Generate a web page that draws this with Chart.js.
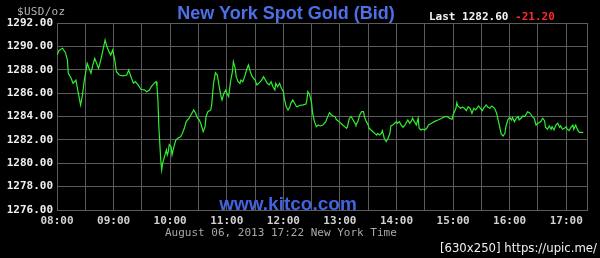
<!DOCTYPE html>
<html>
<head>
<meta charset="utf-8">
<title>New York Spot Gold (Bid)</title>
<script src="https://cdn.jsdelivr.net/npm/chart.js@4.4.1/dist/chart.umd.min.js"></script>
<style>
    html, body { margin: 0; padding: 0; background: #000; }
    #wrap { position: relative; width: 600px; height: 258px; overflow: hidden; background: #000; }
    #wrap canvas { position: absolute; left: 0; top: 0; }
    .txt { position: absolute; white-space: nowrap; line-height: 1; }
    #unit { left: 17px; top: 5px; font: 11px "DejaVu Sans Mono", monospace; color: #b4b4b4; letter-spacing: 0.3px; }
    #title { left: 286px; top: 3px; transform: translateX(-50%); font: bold 18px "Liberation Sans", Arial, sans-serif; color: #4d6fe8; }
    #last { left: 429px; top: 10px; font: bold 11px "DejaVu Sans Mono", monospace; color: #f4f4f4; }
    #last span { color: #ff2a2a; }
    #site { left: 288px; top: 193px; transform: translateX(-50%); font: bold 19px "Liberation Sans", Arial, sans-serif; color: #4262e0; }
    #stamp { left: 165px; top: 226px; font: 11px "DejaVu Sans Mono", monospace; color: #a8a8a8; }
    #wm { right: 3px; top: 240px; font: 13px "Liberation Sans Narrow", "DejaVu Sans Condensed", sans-serif; color: #f0f0f0; }
</style>
</head>
<body>
<div id="wrap">
    <canvas id="gold" width="600" height="258"></canvas>
    <div class="txt" id="unit">$USD/oz</div>
    <div class="txt" id="title">New York Spot Gold (Bid)</div>
    <div class="txt" id="last">Last 1282.60 <span>-21.20</span></div>
    <div class="txt" id="site">www.kitco.com</div>
    <div class="txt" id="stamp">August 06, 2013 17:22 New York Time</div>
    <div class="txt" id="wm">[630x250] https://upic.me/</div>
</div>
<script>
// minutes after 08:00 New York time, and bid price at that minute
const minutes = [
    0, 2, 4, 6, 7, 9, 11, 12, 15, 17, 20, 21, 23, 25, 27, 29, 32, 34, 36, 38,
    40, 42, 44, 46, 48, 51, 53, 55, 57, 59, 61, 63, 66, 70, 74, 76, 79, 81, 83, 86,
    89, 93, 95, 98, 100, 103, 105, 106, 107, 108, 109, 110, 111, 112, 114, 116, 117, 118, 119, 121,
    122, 124, 126, 128, 131, 133, 135, 137, 140, 142, 145, 147, 149, 151, 153, 155, 157, 158, 160, 163,
    164, 166, 168, 170, 172, 174, 175, 177, 179, 180, 182, 184, 186, 187, 189, 190, 192, 194, 195, 197,
    199, 201, 203, 205, 207, 210, 212, 214, 217, 219, 221, 223, 225, 227, 229, 231, 232, 234, 236, 238,
    240, 241, 243, 245, 247, 248, 250, 252, 254, 255, 257, 261, 264, 265, 266, 268, 270, 271, 273, 275,
    277, 279, 282, 285, 287, 289, 291, 293, 295, 296, 299, 301, 303, 305, 307, 308, 310, 312, 314, 316,
    317, 319, 321, 323, 325, 326, 328, 330, 331, 333, 335, 337, 339, 340, 342, 344, 345, 347, 349, 351,
    353, 354, 356, 358, 360, 361, 363, 365, 367, 369, 370, 372, 374, 376, 377, 379, 381, 383, 384, 386,
    388, 390, 392, 394, 397, 400, 404, 408, 411, 414, 416, 419, 420, 423, 424, 425, 428, 430, 432, 434,
    436, 438, 440, 442, 444, 447, 449, 451, 453, 455, 457, 459, 461, 464, 466, 467, 469, 471, 473, 475,
    476, 478, 480, 482, 483, 485, 487, 489, 490, 492, 494, 496, 497, 499, 501, 503, 504, 506, 508, 510,
    511, 513, 515, 517, 518, 520, 522, 524, 525, 527, 529, 531, 533, 534, 536, 538, 540, 541, 543, 545,
    547, 548, 550, 552, 554, 557, 558
];
const prices = [
    1289.26, 1289.63, 1289.75, 1289.84, 1289.69, 1289.46, 1288.84, 1287.70, 1287.27, 1286.84,
    1287.12, 1286.70, 1285.84, 1284.99, 1285.84, 1287.12, 1288.55, 1288.12, 1287.70, 1288.41,
    1288.98, 1288.55, 1288.12, 1288.69, 1289.41, 1290.55, 1289.97, 1289.55, 1289.26, 1289.69,
    1288.98, 1287.83, 1287.55, 1287.47, 1287.55, 1287.98, 1287.27, 1286.84, 1286.98, 1286.70,
    1286.33, 1286.27, 1286.12, 1286.27, 1286.55, 1286.84, 1286.98, 1286.55, 1285.41, 1283.13,
    1281.71, 1280.28, 1279.43, 1280.00, 1280.56, 1281.14, 1280.71, 1280.99, 1281.60, 1281.42,
    1280.71, 1281.42, 1281.99, 1282.14, 1282.27, 1282.56, 1282.99, 1283.56, 1283.85, 1284.13,
    1284.56, 1284.28, 1283.85, 1283.70, 1283.27, 1282.70, 1283.13, 1283.99, 1284.41, 1284.56,
    1284.99, 1286.84, 1287.75, 1287.55, 1286.55, 1285.70, 1285.41, 1285.99, 1286.27, 1285.99,
    1285.70, 1286.98, 1287.83, 1288.69, 1288.12, 1287.41, 1286.98, 1286.84, 1287.12, 1286.98,
    1287.41, 1287.98, 1288.41, 1287.83, 1287.41, 1287.12, 1286.70, 1286.84, 1287.12, 1287.41,
    1287.12, 1286.84, 1286.70, 1286.98, 1286.55, 1286.27, 1286.84, 1286.55, 1286.84, 1286.41,
    1286.12, 1285.56, 1284.84, 1284.56, 1284.84, 1285.13, 1285.41, 1285.13, 1284.84, 1284.84,
    1284.94, 1284.99, 1285.07, 1285.41, 1286.12, 1285.84, 1285.13, 1284.28, 1283.56, 1283.13,
    1283.27, 1283.19, 1283.27, 1283.56, 1283.99, 1284.33, 1284.13, 1284.04, 1283.99, 1283.76,
    1283.56, 1283.42, 1283.27, 1283.13, 1282.99, 1283.13, 1283.85, 1283.99, 1283.70, 1283.42,
    1283.27, 1283.56, 1284.13, 1284.41, 1284.41, 1283.99, 1283.56, 1283.27, 1282.99, 1282.85,
    1282.70, 1282.56, 1282.42, 1282.56, 1282.42, 1282.56, 1282.79, 1282.14, 1281.85, 1282.14,
    1282.56, 1283.19, 1283.27, 1283.42, 1283.56, 1283.42, 1283.56, 1283.27, 1283.08, 1283.27,
    1283.42, 1283.70, 1283.42, 1283.64, 1283.85, 1283.56, 1283.27, 1283.85, 1282.99, 1282.85,
    1282.91, 1282.85, 1282.99, 1283.27, 1283.42, 1283.56, 1283.70, 1283.85, 1283.99, 1284.00,
    1283.85, 1283.76, 1284.13, 1284.70, 1285.18, 1284.90, 1284.70, 1284.79, 1284.70, 1284.50,
    1284.84, 1284.70, 1284.28, 1284.70, 1284.56, 1284.90, 1284.70, 1284.50, 1284.79, 1284.99,
    1284.79, 1284.70, 1284.90, 1284.70, 1284.33, 1283.99, 1283.27, 1282.51, 1282.33, 1282.56,
    1283.13, 1283.70, 1283.93, 1283.70, 1283.93, 1283.56, 1283.85, 1283.99, 1283.70, 1283.85,
    1284.04, 1283.99, 1284.13, 1284.41, 1284.33, 1284.13, 1283.99, 1283.85, 1283.27, 1283.42,
    1283.47, 1283.56, 1283.85, 1283.64, 1283.08, 1282.91, 1283.19, 1282.91, 1283.13, 1282.85,
    1283.27, 1283.42, 1283.08, 1283.19, 1282.91, 1282.99, 1283.13, 1282.91, 1282.79, 1283.08,
    1283.27, 1282.91, 1283.27, 1282.85, 1282.65, 1282.65, 1282.60
];
const hourLabels = ['08:00', '09:00', '10:00', '11:00', '12:00', '13:00', '14:00', '15:00', '16:00', '17:00'];
const lastMinute = 562; // 17:22

const gridColor = '#5c5c5c';
const monoBold = { family: 'DejaVu Sans Mono', size: 11, weight: 'bold' };

new Chart(document.getElementById('gold'), {
    type: 'line',
    data: {
        datasets: [{
            data: minutes.map((m, i) => ({ x: m, y: prices[i] })),
            borderColor: '#2ef02e',
            borderWidth: 1.2,
            pointRadius: 0,
            tension: 0,
            fill: false
        }]
    },
    options: {
        responsive: false,
        animation: false,
        events: [],
        layout: { padding: { top: 23, right: 13, bottom: 0, left: 0 } },
        plugins: { legend: { display: false }, tooltip: { enabled: false } },
        scales: {
            x: {
                type: 'linear',
                min: 0,
                max: lastMinute,
                afterFit: (s) => { s.height = 48; },
                // a grid line every half hour, plus the right edge at 17:22
                afterBuildTicks: (s) => {
                    const t = [];
                    for (let m = 0; m <= 540; m += 30) t.push({ value: m });
                    t.push({ value: lastMinute });
                    s.ticks = t;
                },
                grid: { color: gridColor, lineWidth: 1, drawTicks: false },
                border: { color: gridColor },
                ticks: {
                    autoSkip: false,
                    maxRotation: 0,
                    padding: 5,
                    color: '#d2d2d2',
                    font: monoBold,
                    callback: (v) => (v % 60 === 0 ? hourLabels[v / 60] : '')
                }
            },
            y: {
                min: 1276,
                max: 1292,
                afterFit: (s) => { s.width = 57; },
                grid: { color: gridColor, lineWidth: 1, drawTicks: false },
                border: { color: gridColor },
                ticks: {
                    stepSize: 2,
                    padding: 4,
                    color: '#f0f0f0',
                    font: monoBold,
                    callback: (v) => v.toFixed(2)
                }
            }
        }
    }
});
</script>
</body>
</html>
